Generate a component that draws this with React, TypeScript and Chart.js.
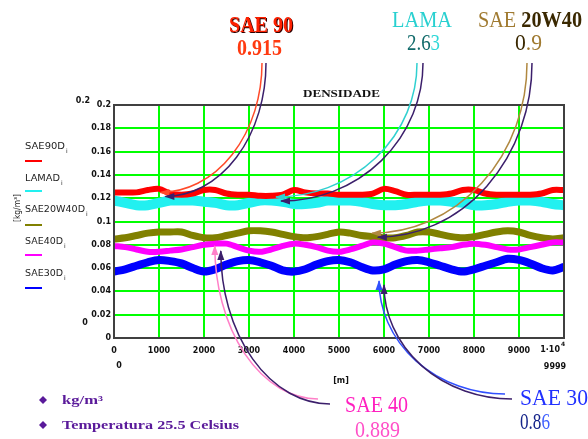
import React, { useEffect, useRef } from "react";
import { Chart, registerables } from "chart.js";

Chart.register(...registerables);

// ---------- DATA ----------
const distance = [0, 250, 500, 750, 1000, 1250, 1500, 1750, 2000, 2250, 2500, 2750, 3000, 3250, 3500, 3750, 4000, 4250, 4500, 4750, 5000, 5250, 5500, 5750, 6000, 6250, 6500, 6750, 7000, 7250, 7500, 7750, 8000, 8250, 8500, 8750, 9000, 9250, 9500, 9750, 10000];

const sae90 = [0.125, 0.125, 0.125, 0.127, 0.128, 0.124, 0.123, 0.124, 0.127, 0.127, 0.124, 0.123, 0.123, 0.122, 0.122, 0.123, 0.127, 0.125, 0.124, 0.124, 0.123, 0.123, 0.123, 0.124, 0.128, 0.126, 0.123, 0.123, 0.123, 0.123, 0.124, 0.127, 0.127, 0.124, 0.123, 0.123, 0.123, 0.123, 0.124, 0.127, 0.127];
const lama = [0.118, 0.116, 0.114, 0.114, 0.116, 0.118, 0.118, 0.118, 0.117, 0.116, 0.114, 0.114, 0.116, 0.118, 0.118, 0.117, 0.115, 0.115, 0.116, 0.118, 0.118, 0.118, 0.117, 0.115, 0.114, 0.114, 0.115, 0.117, 0.118, 0.118, 0.117, 0.116, 0.114, 0.114, 0.115, 0.117, 0.118, 0.118, 0.117, 0.115, 0.114];
const sae20w40 = [0.085, 0.086, 0.088, 0.090, 0.091, 0.091, 0.091, 0.088, 0.086, 0.086, 0.088, 0.090, 0.092, 0.092, 0.091, 0.089, 0.087, 0.086, 0.087, 0.089, 0.091, 0.090, 0.088, 0.087, 0.086, 0.086, 0.088, 0.091, 0.091, 0.089, 0.087, 0.086, 0.087, 0.089, 0.091, 0.092, 0.091, 0.088, 0.086, 0.085, 0.086];
const sae40 = [0.079, 0.078, 0.076, 0.074, 0.074, 0.075, 0.076, 0.078, 0.080, 0.081, 0.081, 0.078, 0.075, 0.074, 0.076, 0.079, 0.081, 0.080, 0.078, 0.075, 0.074, 0.076, 0.079, 0.082, 0.081, 0.078, 0.075, 0.075, 0.076, 0.077, 0.078, 0.080, 0.081, 0.080, 0.078, 0.076, 0.076, 0.078, 0.080, 0.082, 0.082];
const sae30 = [0.057, 0.059, 0.062, 0.065, 0.067, 0.066, 0.064, 0.060, 0.057, 0.059, 0.063, 0.066, 0.067, 0.065, 0.062, 0.058, 0.057, 0.059, 0.063, 0.066, 0.067, 0.065, 0.061, 0.058, 0.059, 0.063, 0.066, 0.067, 0.065, 0.062, 0.059, 0.057, 0.059, 0.062, 0.065, 0.068, 0.067, 0.064, 0.060, 0.058, 0.061];

const seriesNames = ["SAE90D", "LAMAD", "SAE20W40D", "SAE40D", "SAE30D"];
const seriesValues = [sae90, lama, sae20w40, sae40, sae30];

const xMin = 0;
const xMax = 10000;
const xStep = 1000;
const yMin = 0;
const yMax = 0.2;
const yStep = 0.02;

const chartTitle = "DENSIDADE";
const xUnit = "[m]";
const yUnit = "[kg/m³]";
const notes = ["kg/m³", "Temperatura 25.5 Celsius"];

// annotated oils: label, value, and the data point the arrow points at
const arrowLabels = ["SAE 90", "LAMA", "SAE 20W40", "SAE 40", "SAE 30"];
const arrowValues = ["0.915", "2.63", "0.9", "0.889", "0.86"];
const arrowTipX = [1030, 3600, 5730, 2240, 5890];
const arrowTipY = [0.125, 0.121, 0.09, 0.079, 0.049];

// ---------- STYLE ----------
const seriesColors = ["#ff0000", "#22f0f0", "#808000", "#ff00ff", "#0000ff"];
const seriesWidths = [6, 10, 7, 6, 8];
const seriesOrder = [0, 2, 4, 3, 5]; // lower drawn on top
const PURPLE = "#3b1f6b";

type Seg = { text: string; color: string; font: string; shadow?: string };

function drawSegs(ctx: CanvasRenderingContext2D, segs: Seg[], x: number, y: number, w: number) {
  let total = 0;
  const widths: number[] = [];
  for (const s of segs) {
    ctx.font = s.font;
    const m = ctx.measureText(s.text).width;
    widths.push(m);
    total += m;
  }
  const sc = w / total;
  ctx.save();
  ctx.translate(x, y);
  ctx.scale(sc, 1);
  ctx.textAlign = "left";
  ctx.textBaseline = "alphabetic";
  let cx = 0;
  segs.forEach((s, i) => {
    ctx.font = s.font;
    ctx.fillStyle = s.color;
    if (s.shadow) {
      ctx.shadowColor = s.shadow;
      ctx.shadowOffsetX = 1;
      ctx.shadowOffsetY = 1;
      ctx.shadowBlur = 0;
    } else {
      ctx.shadowColor = "transparent";
    }
    ctx.fillText(s.text, cx, 0);
    cx += widths[i];
  });
  ctx.restore();
}

function fitText(ctx: CanvasRenderingContext2D, text: string, x: number, y: number, w: number, font: string, color: string) {
  drawSegs(ctx, [{ text, color, font }], x, y, w);
}

const SERIF = '"Liberation Serif", serif';
const F_BIG = `24px ${SERIF}`;
const F_BIGB = `bold 24px ${SERIF}`;

const decor = {
  id: "decor",
  beforeDraw(chart: any) {
    const ctx = chart.ctx as CanvasRenderingContext2D;
    ctx.save();
    ctx.fillStyle = "#ffffff";
    ctx.fillRect(0, 0, chart.width, chart.height);
    ctx.restore();
  },
  afterDatasetsDraw(chart: any) {
    const ctx = chart.ctx as CanvasRenderingContext2D;
    const a = chart.chartArea;
    ctx.save();
    ctx.strokeStyle = "#404040";
    ctx.lineWidth = 2;
    ctx.strokeRect(a.left, a.top, a.right - a.left, a.bottom - a.top);
    ctx.restore();
  },
  afterDraw(chart: any) {
    const ctx = chart.ctx as CanvasRenderingContext2D;
    const xs = chart.scales.x;
    const ys = chart.scales.y;
    const a = chart.chartArea;
    ctx.save();

    // title
    fitText(ctx, chartTitle, 303, 97, 77, `bold 11px ${SERIF}`, "#111");

    // axis extras (Mathcad limits & units)
    const small = 'bold 8px "DejaVu Sans"';
    ctx.font = small;
    ctx.fillStyle = "#111";
    ctx.textBaseline = "middle";
    ctx.textAlign = "right";
    ctx.fillText(String(yMax), 90, 101);
    ctx.textAlign = "center";
    ctx.fillText(String(yMin), 85, 323);
    ctx.fillText(String(xMin), xs.getPixelForValue(xMin) + 5, 366);
    ctx.fillText(String(xMax - 1), 555, 367);
    ctx.fillText(xUnit, (a.left + a.right) / 2 + 2, 381);
    // last x tick label 1·10^4, right aligned to the frame
    const xr = xs.getPixelForValue(xMax);
    ctx.textAlign = "right";
    ctx.fillText("1·10", xr - 4, 350);
    ctx.font = 'bold 6px "DejaVu Sans"';
    ctx.textAlign = "left";
    ctx.fillText(String(xMax).length - 1 + "", xr - 3, 344);

    // rotated y unit
    ctx.save();
    ctx.translate(17, 208);
    ctx.rotate(-Math.PI / 2);
    fitText(ctx, yUnit, -14, 3, 28, '8px "DejaVu Sans"', "#222");
    ctx.restore();

    // left legend
    const legY = [145, 177, 208, 240, 272];
    const legW = [40, 35, 60, 38, 38];
    const lineY = [161, 191, 225, 255, 288];
    seriesNames.forEach((n, i) => {
      fitText(ctx, n, 25, legY[i] + 4, legW[i], '9px "DejaVu Sans"', "#222");
      ctx.font = '6px "DejaVu Sans"';
      ctx.fillStyle = "#222";
      ctx.textAlign = "left";
      ctx.textBaseline = "alphabetic";
      ctx.fillText("i", 25 + legW[i] + 1, legY[i] + 8);
      ctx.strokeStyle = seriesColors[i];
      ctx.lineWidth = 2;
      ctx.beginPath();
      ctx.moveTo(25, lineY[i]);
      ctx.lineTo(42, lineY[i]);
      ctx.stroke();
    });

    // bottom-left notes
    const notesY = [400, 425];
    const notesW = [41, 177];
    notes.forEach((t, i) => {
      ctx.fillStyle = "#5a1a9a";
      ctx.beginPath();
      const cx = 43, cy = notesY[i];
      ctx.moveTo(cx, cy - 4);
      ctx.lineTo(cx + 4, cy);
      ctx.lineTo(cx, cy + 4);
      ctx.lineTo(cx - 4, cy);
      ctx.closePath();
      ctx.fill();
      fitText(ctx, t, 62, cy + 4, notesW[i], `bold 12px ${SERIF}`, "#5a1a9a");
    });

    // arrows
    const geom = [
      { kind: "down", color: "#ff4a2a", a1: [262, 63], a2: [266, 63], off: [5, 4] },
      { kind: "down", color: "#30d0d0", a1: [417, 63], a2: [423, 63], off: [5, 4] },
      { kind: "down", color: "#b08840", a1: [527, 63], a2: [532, 63], off: [6, 4] },
      { kind: "up", color: "#ff80c8", a1: [318, 399], a2: [330, 404], off: [6, 5] },
      { kind: "up", color: "#3050ff", a1: [505, 394], a2: [512, 399], off: [5, 4] },
    ];
    geom.forEach((g, i) => {
      const tx = xs.getPixelForValue(arrowTipX[i]);
      const ty = ys.getPixelForValue(arrowTipY[i]);
      const tips = [
        { x: tx, y: ty, c: g.color, an: g.a1 },
        { x: tx + g.off[0], y: ty + g.off[1], c: PURPLE, an: g.a2 },
      ];
      tips.forEach((t) => {
        ctx.strokeStyle = t.c;
        ctx.fillStyle = t.c;
        ctx.lineWidth = 1.5;
        ctx.beginPath();
        if (g.kind === "down") {
          const rx = t.an[0] - t.x;
          const ry = t.y - t.an[1];
          ctx.ellipse(t.x, t.an[1], rx, ry, 0, 0, Math.PI / 2);
          ctx.stroke();
          ctx.beginPath();
          ctx.moveTo(t.x - 1, t.y);
          ctx.lineTo(t.x + 9, t.y - 3.5);
          ctx.lineTo(t.x + 9, t.y + 3.5);
          ctx.closePath();
          ctx.fill();
        } else {
          const rx = t.an[0] - t.x;
          const ry = t.an[1] - t.y;
          ctx.ellipse(t.an[0], t.y, rx, ry, 0, Math.PI / 2, Math.PI);
          ctx.stroke();
          ctx.beginPath();
          ctx.moveTo(t.x, t.y - 1);
          ctx.lineTo(t.x - 3.5, t.y + 9);
          ctx.lineTo(t.x + 3.5, t.y + 9);
          ctx.closePath();
          ctx.fill();
        }
      });
    });

    // arrow labels
    const [l90, lLama, l2040, l40, l30] = arrowLabels;
    const [v90, vLama, v2040, v40, v30] = arrowValues;
    drawSegs(ctx, [{ text: l90, color: "#ff2000", font: F_BIGB, shadow: "#300000" }], 229, 32, 64);
    drawSegs(ctx, [{ text: v90, color: "#ff3a10", font: F_BIGB }], 237, 55, 45);
    drawSegs(ctx, [{ text: lLama, color: "#28d0d0", font: F_BIG }], 392, 27, 60);
    drawSegs(ctx, [
      { text: vLama.slice(0, 3), color: "#106a6a", font: F_BIG },
      { text: vLama.slice(3), color: "#30d8d8", font: F_BIG },
    ], 407, 50, 33);
    drawSegs(ctx, [
      { text: l2040.slice(0, 4), color: "#a07a30", font: F_BIG },
      { text: l2040.slice(4), color: "#3a2800", font: F_BIGB },
    ], 478, 27, 104);
    drawSegs(ctx, [
      { text: v2040.slice(0, 1), color: "#3a2800", font: F_BIG },
      { text: v2040.slice(1), color: "#a07a30", font: F_BIG },
    ], 515, 50, 27);
    drawSegs(ctx, [{ text: l40, color: "#ff20c0", font: F_BIG }], 345, 412, 63);
    drawSegs(ctx, [{ text: v40, color: "#ff50c8", font: F_BIG }], 355, 437, 45);
    drawSegs(ctx, [{ text: l30, color: "#2030ff", font: F_BIG }], 520, 405, 68);
    drawSegs(ctx, [
      { text: v30.slice(0, 3), color: "#15248a", font: F_BIG },
      { text: v30.slice(3), color: "#4060ff", font: F_BIG },
    ], 520, 429, 30);

    ctx.restore();
  },
};

export default function App() {
  const ref = useRef<HTMLCanvasElement>(null);
  useEffect(() => {
    document.body.style.margin = "0";
    const canvas = ref.current!;
    const tickFont = { family: '"DejaVu Sans"', size: 8, weight: "bold" as const };
    const chart = new Chart(canvas, {
      type: "line",
      data: {
        datasets: seriesValues.map((vals, i) => ({
          label: seriesNames[i],
          data: vals.map((v, k) => ({ x: distance[k], y: v })),
          borderColor: seriesColors[i],
          backgroundColor: seriesColors[i],
          borderWidth: seriesWidths[i],
          pointRadius: 0,
          tension: 0.3,
          fill: false,
          order: seriesOrder[i],
        })),
      },
      options: {
        animation: false,
        responsive: false,
        devicePixelRatio: 1,
        layout: { padding: { left: 0, top: 105, right: 24, bottom: 0 } },
        plugins: { legend: { display: false }, tooltip: { enabled: false } },
        scales: {
          x: {
            type: "linear",
            min: xMin,
            max: xMax,
            ticks: {
              stepSize: xStep,
              autoSkip: false,
              maxRotation: 0,
              padding: 8,
              font: tickFont,
              color: "#111",
              callback: (v: any) => (Number(v) === xMax ? "" : String(v)),
            },
            grid: { color: "#00ff00", lineWidth: 2, drawTicks: false },
            border: { display: true, color: "#404040", width: 2 },
            afterFit: (s: any) => {
              s.height = 101;
            },
          },
          y: {
            min: yMin,
            max: yMax,
            ticks: {
              stepSize: yStep,
              autoSkip: false,
              padding: 3,
              font: tickFont,
              color: "#111",
              callback: (v: any) => String(Number(Number(v).toFixed(2))),
            },
            grid: { color: "#00ff00", lineWidth: 2, drawTicks: false },
            border: { display: true, color: "#404040", width: 2 },
            afterFit: (s: any) => {
              s.width = 114;
            },
          },
        },
      },
      plugins: [decor],
    });
    return () => chart.destroy();
  }, []);
  return (
    <div style={{ width: 588, height: 439 }}>
      <canvas ref={ref} width={588} height={439} style={{ display: "block" }} />
    </div>
  );
}
